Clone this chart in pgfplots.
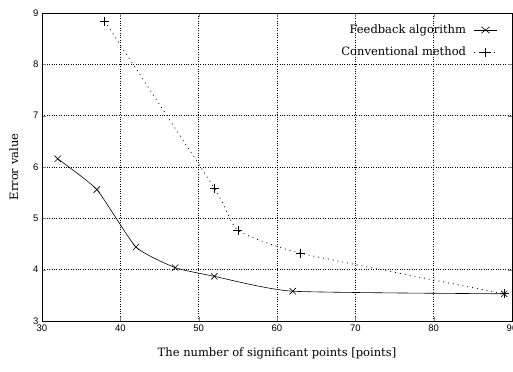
\documentclass[border=0pt]{standalone}
\usepackage{fontspec}
\setmainfont{DejaVu Serif}
\newfontfamily\tickfont{Liberation Sans}
\usepackage{pgfplots}
\pgfplotsset{compat=1.18}
\begin{document}
\begin{tikzpicture}
\begin{axis}[
  scale only axis, width=470pt, height=308pt,
  xmin=30, xmax=90, ymin=3, ymax=9,
  xtick={30,40,...,90}, ytick={3,...,9},
  grid=major, grid style={dotted, black, line width=0.6pt},
  axis line style={line width=0.8pt},
  tick align=inside, major tick length=4pt,
  tick label style={font=\tickfont\fontsize{9.5}{11}\selectfont},
  /pgf/number format/assume math mode=true,
  xlabel={The number of significant points [points]},
  ylabel={Error value},
  label style={font=\fontsize{11.5}{13}\selectfont},
  xlabel style={yshift=-10pt},
  ylabel style={yshift=8pt},
  legend style={draw=none, fill=none, at={(0.975,0.975)}, anchor=north east,
    font=\fontsize{11.5}{13}\selectfont, row sep=8pt,
    /tikz/every odd column/.append style={column sep=6pt}},
  legend cell align=right,
  legend plot pos=right,
  legend image post style={xscale=1.3},
]
\addplot[black, smooth, tension=0.3, mark=x, mark size=4.5pt, line width=0.6pt]
  coordinates {(32,6.16) (37,5.56) (42,4.44) (47,4.04) (52,3.87) (62,3.58) (89,3.53)};
\addlegendentry{Feedback algorithm}
\addplot[black, smooth, tension=0.3, dash pattern=on 0.9pt off 4pt, line width=0.8pt,
  mark=+, mark size=4.5pt, mark options={solid, line width=0.6pt}]
  coordinates {(38,8.84) (52,5.59) (55,4.77) (63,4.32) (89,3.53)};
\addlegendentry{Conventional method}
\end{axis}
\pgfresetboundingbox
\useasboundingbox ([xshift=-42pt,yshift=-51pt]current axis.south west) rectangle ([xshift=1pt,yshift=13pt]current axis.north east);
\end{tikzpicture}
\end{document}
